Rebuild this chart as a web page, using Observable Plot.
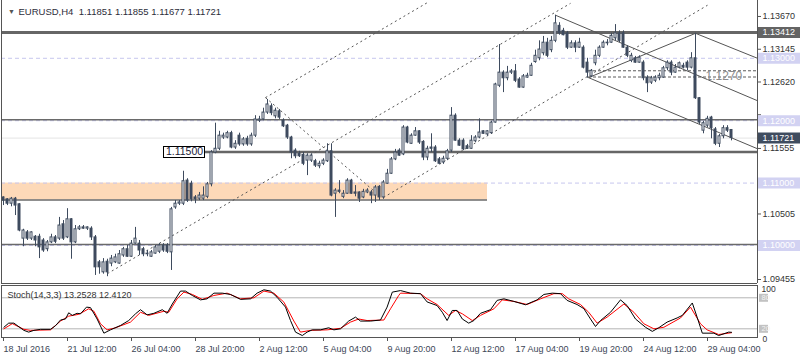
<!DOCTYPE html>
<html><head><meta charset="utf-8">
<script src="https://cdn.jsdelivr.net/npm/d3@7"></script>
<script src="https://cdn.jsdelivr.net/npm/@observablehq/plot@0.6"></script>
<style>
body{margin:0;background:#fff;}
#wrap{position:relative;width:800px;height:360px;overflow:hidden;background:#fff;}
#main{position:absolute;left:0;top:0;}
#stoch{position:absolute;left:0;top:285px;}
</style></head><body><div id="wrap"><div id="main"></div><div id="stoch"></div></div>
<script>
// ---------- DATA ----------
const titleText = "EURUSD,H4  1.11851 1.11855 1.11677 1.11721";
const stochTitle = "Stoch(14,3,3) 13.2528 12.4120";
const opens = [
1.1077,1.1074,1.1067,1.1075,1.1066,1.1011,1.1021,1.1011,1.1014,1.1014,
1.1008,1.0994,1.1005,1.1013,1.1011,1.1034,1.1013,1.1042,1.1005,1.1026,
1.1029,1.1027,1.1027,1.1013,1.0973,1.0957,1.0974,1.0971,1.0973,1.0971,
1.0984,1.0994,1.0982,1.1003,1.1003,1.0994,1.0987,1.0982,1.0987,1.0990,
1.1000,1.1000,1.0989,1.1061,1.1067,1.1067,1.1104,1.1099,1.1077,1.1075,
1.1075,1.1078,1.1098,1.1149,1.1155,1.1173,1.1173,1.1180,1.1157,1.1176,
1.1162,1.1171,1.1162,1.1176,1.1200,1.1202,1.1213,1.1223,1.1207,1.1215,
1.1200,1.1192,1.1173,1.1152,1.1147,1.1145,1.1136,1.1136,1.1135,1.1127,
1.1131,1.1135,1.1151,1.1083,1.1088,1.1078,1.1083,1.1104,1.1085,1.1085,
1.1077,1.1085,1.1085,1.1080,1.1094,1.1077,1.1099,1.1115,1.1138,1.1152,
1.1146,1.1189,1.1163,1.1176,1.1183,1.1166,1.1141,1.1157,1.1157,1.1138,
1.1133,1.1139,1.1152,1.1208,1.1168,1.1168,1.1159,1.1155,1.1167,1.1173,
1.1183,1.1178,1.1180,1.1197,1.1256,1.1277,1.1268,1.1277,1.1279,1.1266,
1.1253,1.1269,1.1272,1.1294,1.1300,1.1308,1.1325,1.1313,1.1328,1.1352,
1.1344,1.1340,1.1317,1.1324,1.1317,1.1317,1.1293,1.1271,1.1292,1.1304,
1.1317,1.1324,1.1325,1.1332,1.1340,1.1340,1.1317,1.1296,1.1300,1.1293,
1.1293,1.1269,1.1261,1.1264,1.1268,1.1269,1.1284,1.1293,1.1277,1.1285,
1.1288,1.1293,1.1285,1.1300,1.1236,1.1184,1.1192,1.1205,1.1186,1.1163,
1.1175,1.1188,1.11851];
const highs = [
1.1078,1.1075,1.1077,1.1077,1.1067,1.1026,1.1024,1.1022,1.1016,1.1018,
1.1011,1.1008,1.1018,1.1016,1.1045,1.1040,1.1059,1.1043,1.1032,1.1032,
1.1032,1.1030,1.1030,1.1016,1.0976,1.0979,1.0978,1.0984,1.0986,1.0992,
1.0997,1.1000,1.1008,1.1029,1.1008,1.0997,1.0992,1.0992,1.1000,1.1003,
1.1003,1.1003,1.1061,1.1072,1.1072,1.1119,1.1107,1.1103,1.1080,1.1085,
1.1094,1.1101,1.1152,1.1196,1.1183,1.1180,1.1183,1.1183,1.1168,1.1180,
1.1173,1.1175,1.1180,1.1208,1.1207,1.1220,1.1234,1.1227,1.1220,1.1218,
1.1203,1.1194,1.1175,1.1155,1.1151,1.1149,1.1147,1.1147,1.1138,1.1135,
1.1139,1.1163,1.1163,1.1091,1.1104,1.1088,1.1107,1.1106,1.1096,1.1086,
1.1090,1.1091,1.1088,1.1096,1.1096,1.1104,1.1122,1.1141,1.1154,1.1155,
1.1192,1.1191,1.1179,1.1189,1.1184,1.1168,1.1159,1.1179,1.1160,1.1141,
1.1143,1.1154,1.1221,1.1211,1.1171,1.1171,1.1162,1.1176,1.1176,1.1203,
1.1184,1.1184,1.1199,1.1260,1.1322,1.1280,1.1287,1.1282,1.1290,1.1269,
1.1274,1.1276,1.1292,1.1313,1.1328,1.1335,1.1332,1.1335,1.1369,1.1357,
1.1348,1.1343,1.1328,1.1328,1.1332,1.1320,1.1300,1.1282,1.1313,1.1320,
1.1328,1.1330,1.1340,1.1354,1.1344,1.1344,1.1320,1.1308,1.1303,1.1304,
1.1296,1.1272,1.1271,1.1272,1.1276,1.1287,1.1296,1.1296,1.1290,1.1294,
1.1292,1.1296,1.1309,1.1340,1.1237,1.1199,1.1207,1.1207,1.1189,1.1178,
1.1192,1.1192,1.11855];
const lows = [
1.1064,1.1064,1.1062,1.1048,1.1022,1.0998,1.1008,1.1008,1.0998,1.0979,
1.0989,1.0990,1.1003,1.1003,1.1008,1.1008,1.1011,1.0978,1.1003,1.1024,
1.1026,1.1024,1.1008,1.0952,1.0954,1.0954,1.0950,1.0966,1.0971,1.0970,
1.0981,1.0981,1.0981,1.1002,1.0984,1.0982,1.0982,1.0981,1.0986,1.0987,
1.0989,1.0987,1.0960,1.1058,1.1064,1.1064,1.1069,1.1070,1.1067,1.1072,
1.1072,1.1075,1.1094,1.1147,1.1152,1.1170,1.1171,1.1155,1.1154,1.1159,
1.1159,1.1159,1.1159,1.1173,1.1197,1.1200,1.1210,1.1208,1.1203,1.1202,
1.1189,1.1170,1.1139,1.1139,1.1141,1.1128,1.1112,1.1133,1.1125,1.1123,
1.1128,1.1133,1.1078,1.1045,1.1083,1.1075,1.1082,1.1082,1.1078,1.1069,
1.1075,1.1083,1.1067,1.1069,1.1072,1.1074,1.1098,1.1114,1.1136,1.1143,
1.1144,1.1163,1.1162,1.1175,1.1162,1.1136,1.1136,1.1149,1.1133,1.1130,
1.1130,1.1136,1.1149,1.1167,1.1159,1.1152,1.1154,1.1154,1.1165,1.1171,
1.1178,1.1175,1.1178,1.1196,1.1253,1.1245,1.1264,1.1274,1.1261,1.1252,
1.1252,1.1268,1.1271,1.1292,1.1296,1.1304,1.1301,1.1309,1.1325,1.1337,
1.1336,1.1314,1.1316,1.1309,1.1316,1.1283,1.1268,1.1269,1.1288,1.1301,
1.1316,1.1320,1.1324,1.1328,1.1325,1.1316,1.1301,1.1293,1.1292,1.1292,
1.1264,1.1245,1.1258,1.1261,1.1264,1.1268,1.1280,1.1272,1.1276,1.1283,
1.1283,1.1280,1.1283,1.1234,1.1194,1.1179,1.1189,1.1171,1.1160,1.1157,
1.1171,1.1181,1.11677];
const closes = [
1.1072,1.1067,1.1075,1.1064,1.1024,1.1024,1.1011,1.1021,1.1008,1.0997,
1.0992,1.1005,1.1013,1.1006,1.1032,1.1011,1.1042,1.1005,1.1026,1.1029,
1.1027,1.1029,1.1013,1.0965,1.0965,1.0973,1.0957,1.0979,1.0981,1.0986,
1.0994,1.0982,1.1003,1.1011,1.0992,1.0986,1.0986,1.0989,1.0997,1.1000,
1.0992,1.0990,1.1058,1.1067,1.1069,1.1103,1.1072,1.1074,1.1074,1.1080,
1.1080,1.1098,1.1149,1.1155,1.1176,1.1176,1.1180,1.1157,1.1163,1.1162,
1.1170,1.1162,1.1176,1.1202,1.1202,1.1213,1.1226,1.1212,1.1216,1.1205,
1.1191,1.1173,1.1149,1.1143,1.1143,1.1131,1.1144,1.1144,1.1128,1.1131,
1.1136,1.1151,1.1080,1.1088,1.1086,1.1083,1.1104,1.1083,1.1083,1.1075,
1.1086,1.1088,1.1080,1.1093,1.1077,1.1101,1.1115,1.1138,1.1149,1.1144,
1.1189,1.1165,1.1176,1.1183,1.1165,1.1141,1.1155,1.1155,1.1135,1.1131,
1.1139,1.1151,1.1208,1.1168,1.1160,1.1154,1.1155,1.1168,1.1173,1.1181,
1.1179,1.1183,1.1197,1.1258,1.1277,1.1268,1.1277,1.1279,1.1264,1.1253,
1.1271,1.1272,1.1288,1.1304,1.1314,1.1325,1.1304,1.1328,1.1356,1.1340,
1.1337,1.1317,1.1324,1.1317,1.1325,1.1285,1.1277,1.1280,1.1304,1.1317,
1.1325,1.1325,1.1336,1.1340,1.1328,1.1317,1.1304,1.1304,1.1293,1.1301,
1.1268,1.1260,1.1268,1.1269,1.1272,1.1284,1.1293,1.1277,1.1285,1.1292,
1.1285,1.1285,1.1300,1.1236,1.1197,1.1196,1.1203,1.1188,1.1163,1.1175,
1.1188,1.1184,1.11721];

// x-axis ticks (bar index) and labels
const tickBars = [0,16,32,48,64,80,96,112,128,144,160,176];
const tickLabels = ["18 Jul 2016","21 Jul 12:00","26 Jul 04:00","28 Jul 20:00","2 Aug 12:00","5 Aug 04:00","9 Aug 20:00","12 Aug 12:00","17 Aug 04:00","19 Aug 20:00","24 Aug 12:00","29 Aug 04:00"];
// price axis ticks (all) and the ones whose labels are visible
const priceTicks = [1.13670,1.13145,1.12620,1.12095,1.11555,1.11030,1.10505,1.09980,1.09455];
const priceTickLabels = [1.13670,1.13145,1.12620,1.11555,1.10505,1.09455];
// highlighted price tags
const tagLevels = [1.13412,1.13000,1.12000,1.11000,1.10000,1.11721];
const tagColors = ["#646464","#d2d2f2","#d2d2f2","#d2d2f2","#d2d2f2","#3f4c5f"];
// horizontal levels
const roundLevels = [1.13,1.12,1.11,1.10];
const greyLevels = [1.12015,1.10015];
const resistance = 1.13412;
const support = 1.115;
const supportFromBar = 50.5;
const zone = {x1:-0.5, x2:121, y1:1.1073, y2:1.1100};
const fibLevels = [1.1280,1.1270];
const fibFromBar = 146.25;
const fibLabel = "1.1270";
const lastPrice = 1.11721;
// trend lines (bar, price)
const dottedLines = [
  {x1:26,   y1:1.0955, x2:141.75, y2:1.1388},
  {x1:65.5, y1:1.1237, x2:106.45, y2:1.1391},
  {x1:95,   y1:1.1077, x2:176,    y2:1.1385},
  {x1:65.5, y1:1.1237, x2:92.5,   y2:1.1088}
];
const solidLines = [
  {x1:138,    y1:1.1369, x2:188.5, y2:1.1232},
  {x1:146.25, y1:1.1269, x2:188.5, y2:1.1155},
  {x1:173,    y1:1.1340, x2:188.5, y2:1.1300},
  {x1:146.25, y1:1.1269, x2:173,   y2:1.1340}
];
// stochastic readings [bar, value]
const stochK = [[0.1,23],[1.3,31],[2.6,31],[3.4,26.5],[5.1,17],[6.3,13.6],[7.6,17],[9.25,19],[11.75,19],[13,26],[14.25,37],[15.5,39],[16.3,51],[17.2,46],[18.4,50],[19.25,49],[20.75,62],[21.75,61],[23.4,39],[25.1,11.6],[26.75,18],[29.25,26.5],[31.3,36],[33,49],[34.25,57],[35.9,47],[37.6,50],[39.7,57],[40.9,50],[42.2,68],[44.25,93],[45.5,93],[47.2,84.5],[49.25,76],[50.9,78],[52.6,89],[54.7,89],[56.75,86.5],[59.25,77],[61.75,78],[63.4,89],[65.1,95.5],[66.75,93],[68.4,81],[70.5,62],[71.75,36],[73,13.6],[74.7,7],[75.9,13.6],[77.2,18],[79.25,18],[81.3,22],[82.6,18],[84.25,20],[86.3,35],[88,42.6],[89.25,35],[91.75,35],[94.25,37],[95.9,62],[97.2,91],[99.25,94],[101.75,89],[104.25,88],[105.9,72],[108.4,65],[109.7,52],[110.9,36],[112.2,55.5],[113.4,55.5],[114.7,39],[116.3,31],[117.6,36],[119.25,50],[121.75,57],[123.4,75],[125.1,78],[127.6,73],[130.5,66.5],[133.4,76],[135.1,86.5],[137.2,89],[139.25,88],[140.9,75],[143.4,67],[145.1,59],[146.75,39],[148,24.5],[149.25,36],[151.75,52],[154.25,76],[155.9,65],[158,39],[160.5,23],[162.2,15],[163.8,22],[165.9,33],[168.4,41],[169.7,46],[172.2,70],[173.4,42.6],[174.7,11.6],[177.6,11.6],[178.8,7],[181.3,13.6],[182,13.25]];
const stochD = [[0.1,20],[2.2,30],[5.1,19],[6.75,17],[11.75,18],[14.25,35],[16.3,44.5],[18.8,48],[21.3,58.7],[22.6,54],[24.25,29.7],[25.9,18],[28,22],[31.75,33],[34.25,52],[36.3,46],[40.1,54],[41.3,52],[43.4,78],[45.1,91],[47.2,86.5],[49.7,77],[52.6,84.5],[55.9,89],[59.25,78],[62.6,80],[65.1,93],[67.6,89],[70.1,71.6],[72.6,35],[74.25,13.6],[76.75,17],[80.9,18],[84.25,21],[86.75,33],[88.8,39],[90.9,36],[95.1,37],[96.75,58.7],[98.8,84.5],[99.25,89],[104.25,88],[105.9,78],[108.4,67],[111.3,46],[113,55.5],[114.7,49],[117.2,36],[119.25,46],[122.6,58.7],[124.7,76],[127.6,73],[130.9,67],[134.25,78],[137.6,88],[139.7,88],[141.3,78],[144.25,67],[146.3,52],[148.4,31],[150.9,42.6],[155.1,68],[157.6,52],[160.1,29.7],[162.6,20],[165.1,23],[169.25,41],[171.75,62],[174.25,29.7],[175.9,18],[178.8,9],[182,12.41]];
const stochLevels = [80,20];

// ---------- CHART ----------
const FONT = "'Liberation Sans', Arial, sans-serif";
const slate = "#3e4b5e";
const xDomain = [-0.5, 188.5];
const candles = opens.map((o,i)=>({i, o, h:highs[i], l:lows[i], c:closes[i]}));

const main = Plot.plot({
  width:800, height:284, marginLeft:1, marginRight:43, marginTop:0, marginBottom:1,
  x:{domain:xDomain, axis:null},
  y:{domain:[1.09391,1.13926], axis:null},
  style:{fontFamily:FONT, fontSize:"9px", background:"transparent", overflow:"visible", color:"#333"},
  marks:[
    Plot.rect([zone], {x1:"x1", x2:"x2", y1:"y1", y2:"y2", fill:"#fdd9b8"}),
    Plot.ruleY([lastPrice], {stroke:"#e4e4e4"}),
    Plot.ruleY(roundLevels, {stroke:"#c6c6ee", strokeDasharray:"4,3"}),
    Plot.ruleY(greyLevels, {stroke:"#6a6a6a", strokeWidth:1.5}),
    Plot.ruleY([zone.y1], {x1:zone.x1, x2:zone.x2, stroke:"#6a6a6a", strokeWidth:1.5}),
    Plot.ruleY([resistance], {stroke:"#666", strokeWidth:3}),
    Plot.ruleY([support], {x1:supportFromBar, x2:xDomain[1], stroke:"#666", strokeWidth:2.5}),
    Plot.ruleY(fibLevels, {x1:fibFromBar, x2:xDomain[1], stroke:"#5a5a5a", strokeDasharray:"3,2"}),
    Plot.link(dottedLines, {x1:"x1", y1:"y1", x2:"x2", y2:"y2", stroke:"#555", strokeDasharray:"2,3"}),
    Plot.link(solidLines, {x1:"x1", y1:"y1", x2:"x2", y2:"y2", stroke:"#555"}),
    Plot.ruleX(candles, {x:"i", y1:"l", y2:"h", stroke:slate}),
    Plot.rect(candles, {x1:d=>d.i-0.25, x2:d=>d.i+0.25, y1:"o", y2:"c",
      fill:d=>d.c>=d.o?"#ffffff":slate, stroke:slate, strokeWidth:1}),
    Plot.text([fibLabel], {x:()=>175.5, y:()=>fibLevels[1], textAnchor:"start", fill:"#8c8c8c", fontSize:12, dy:-0.5}),
    // 1.11500 label box
    Plot.ruleY([support], {x1:40, x2:50.5, stroke:"#000", strokeWidth:12}),
    Plot.ruleY([support], {x1:40.25, x2:50.25, stroke:"#fff", strokeWidth:10}),
    Plot.text([support], {x:()=>45.25, y:d=>d, text:d=>d.toFixed(5), fill:"#1b1b3a", fontSize:10.5, textAnchor:"middle"}),
    // frame lines
    Plot.ruleX([xDomain[0]], {stroke:"#555"}),
    Plot.ruleX([xDomain[1]], {stroke:"#555"}),
    Plot.ruleY([1.09391], {stroke:"#555"}),
    // price axis
    Plot.ruleY(priceTicks, {stroke:"#555", insetLeft:756, insetRight:-4}),
    Plot.text(priceTickLabels, {y:d=>d, text:d=>d.toFixed(5), frameAnchor:"right", dx:5, textAnchor:"start", fill:"#333"}),
    Plot.ruleY(tagLevels, {stroke:(d,i)=>tagColors[i], strokeWidth:11, insetLeft:757, insetRight:-43}),
    Plot.text(tagLevels, {y:d=>d, text:d=>d.toFixed(5), frameAnchor:"right", dx:5, textAnchor:"start", fill:"#ffffff"}),
    // title
    Plot.text(["▼"], {frameAnchor:"top-left", dx:10, dy:11, lineAnchor:"middle", textAnchor:"middle", fontSize:7, fill:"#555"}),
    Plot.text([titleText], {frameAnchor:"top-left", dx:17, dy:11, lineAnchor:"middle", textAnchor:"start", fill:"#2d2d3a", fontSize:9.5})
  ]
});
document.getElementById("main").appendChild(main);

const stoch = Plot.plot({
  width:800, height:75, marginLeft:1, marginRight:43, marginTop:0, marginBottom:23,
  x:{domain:xDomain, axis:null},
  y:{domain:[3.2,103.8], axis:null},
  style:{fontFamily:FONT, fontSize:"9px", background:"transparent", overflow:"visible", color:"#333"},
  marks:[
    Plot.ruleY(stochLevels, {stroke:"#b4b4b4"}),
    Plot.line(stochD, {x:d=>d[0], y:d=>d[1], stroke:"#ff0000", strokeWidth:1}),
    Plot.line(stochK, {x:d=>d[0], y:d=>d[1], stroke:"#000000", strokeWidth:1}),
    Plot.frame({stroke:"#555"}),
    Plot.text([stochTitle], {frameAnchor:"top-left", dx:6, dy:10, lineAnchor:"middle", textAnchor:"start", fill:"#333"}),
    Plot.ruleY(stochLevels, {stroke:"#c2c2c2", strokeWidth:8, insetLeft:758, insetRight:-11}),
    Plot.text(stochLevels, {y:d=>d, text:d=>String(d), frameAnchor:"right", dx:4, textAnchor:"start", fill:"#f2f2f2", fontSize:7.5}),
    Plot.text(["100"], {frameAnchor:"top-right", dx:4, dy:4, lineAnchor:"middle", textAnchor:"start", fill:"#333", fontSize:8.5}),
    Plot.text(["0"], {frameAnchor:"bottom-right", dx:5, dy:1.5, lineAnchor:"middle", textAnchor:"start", fill:"#333", fontSize:8.5}),
    Plot.ruleX(tickBars, {x:d=>d, insetTop:52, insetBottom:-4, stroke:"#555"}),
    Plot.text(tickBars, {x:d=>d, text:(d,i)=>tickLabels[i], frameAnchor:"bottom", dy:12, lineAnchor:"middle", textAnchor:"start", fill:"#3c4656"})
  ]
});
document.getElementById("stoch").appendChild(stoch);
</script>
</body></html>
